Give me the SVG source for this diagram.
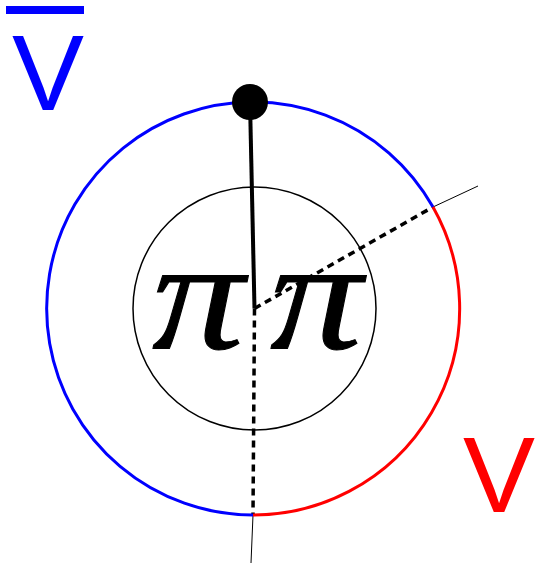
<svg xmlns="http://www.w3.org/2000/svg" width="536" height="563" viewBox="0 0 536 563">
<style>
.lbl{font-family:"Liberation Sans",Arial,sans-serif;font-size:108px}
.pi{font-family:"Liberation Serif","Times New Roman",serif;font-style:italic;font-size:160px;fill:#000;stroke:#000;stroke-width:1}
.thin{stroke:#000;stroke-width:1;fill:none}
.dash{stroke:#000;stroke-width:3.5;stroke-dasharray:7,5;fill:none}
</style>
<rect width="536" height="563" fill="#fff"/>
<g id="connectors">
<line class="thin" x1="433" y1="207" x2="478" y2="186"/>
<line class="thin" x1="253" y1="515" x2="251" y2="563"/>
<line class="dash" x1="254.5" y1="308.5" x2="433" y2="207"/>
<line class="dash" x1="254.5" y1="308.5" x2="253" y2="515"/>
<line x1="254.5" y1="308.5" x2="250" y2="102" stroke="#000" stroke-width="4"/>
</g>
<g id="outer">
<path d="M433 207 A206.5 206.5 0 1 0 253 515" fill="none" stroke="#00f" stroke-width="3"/>
<path d="M433 207 A206.5 206.5 0 0 1 253 515" fill="none" stroke="#f00" stroke-width="3"/>
</g>
<g id="inner">
<circle cx="254.5" cy="308.5" r="121.5" fill="none" stroke="#000" stroke-width="1.5"/>
</g>
<g id="ball"><circle cx="250" cy="102" r="18" fill="#000"/></g>
<g id="pis">
<text class="pi" transform="translate(152 348) scale(1.15 1)" x="0" y="0">π</text>
<text class="pi" transform="translate(270 348) scale(1.15 1)" x="0" y="0">π</text>
</g>
<g id="vbar">
<rect x="6" y="6" width="78" height="8" fill="#00f"/>
<text class="lbl" x="12" y="110" fill="#00f">V</text>
</g>
<g id="v">
<text class="lbl" x="463" y="512" fill="#f00">V</text>
</g>
</svg>
